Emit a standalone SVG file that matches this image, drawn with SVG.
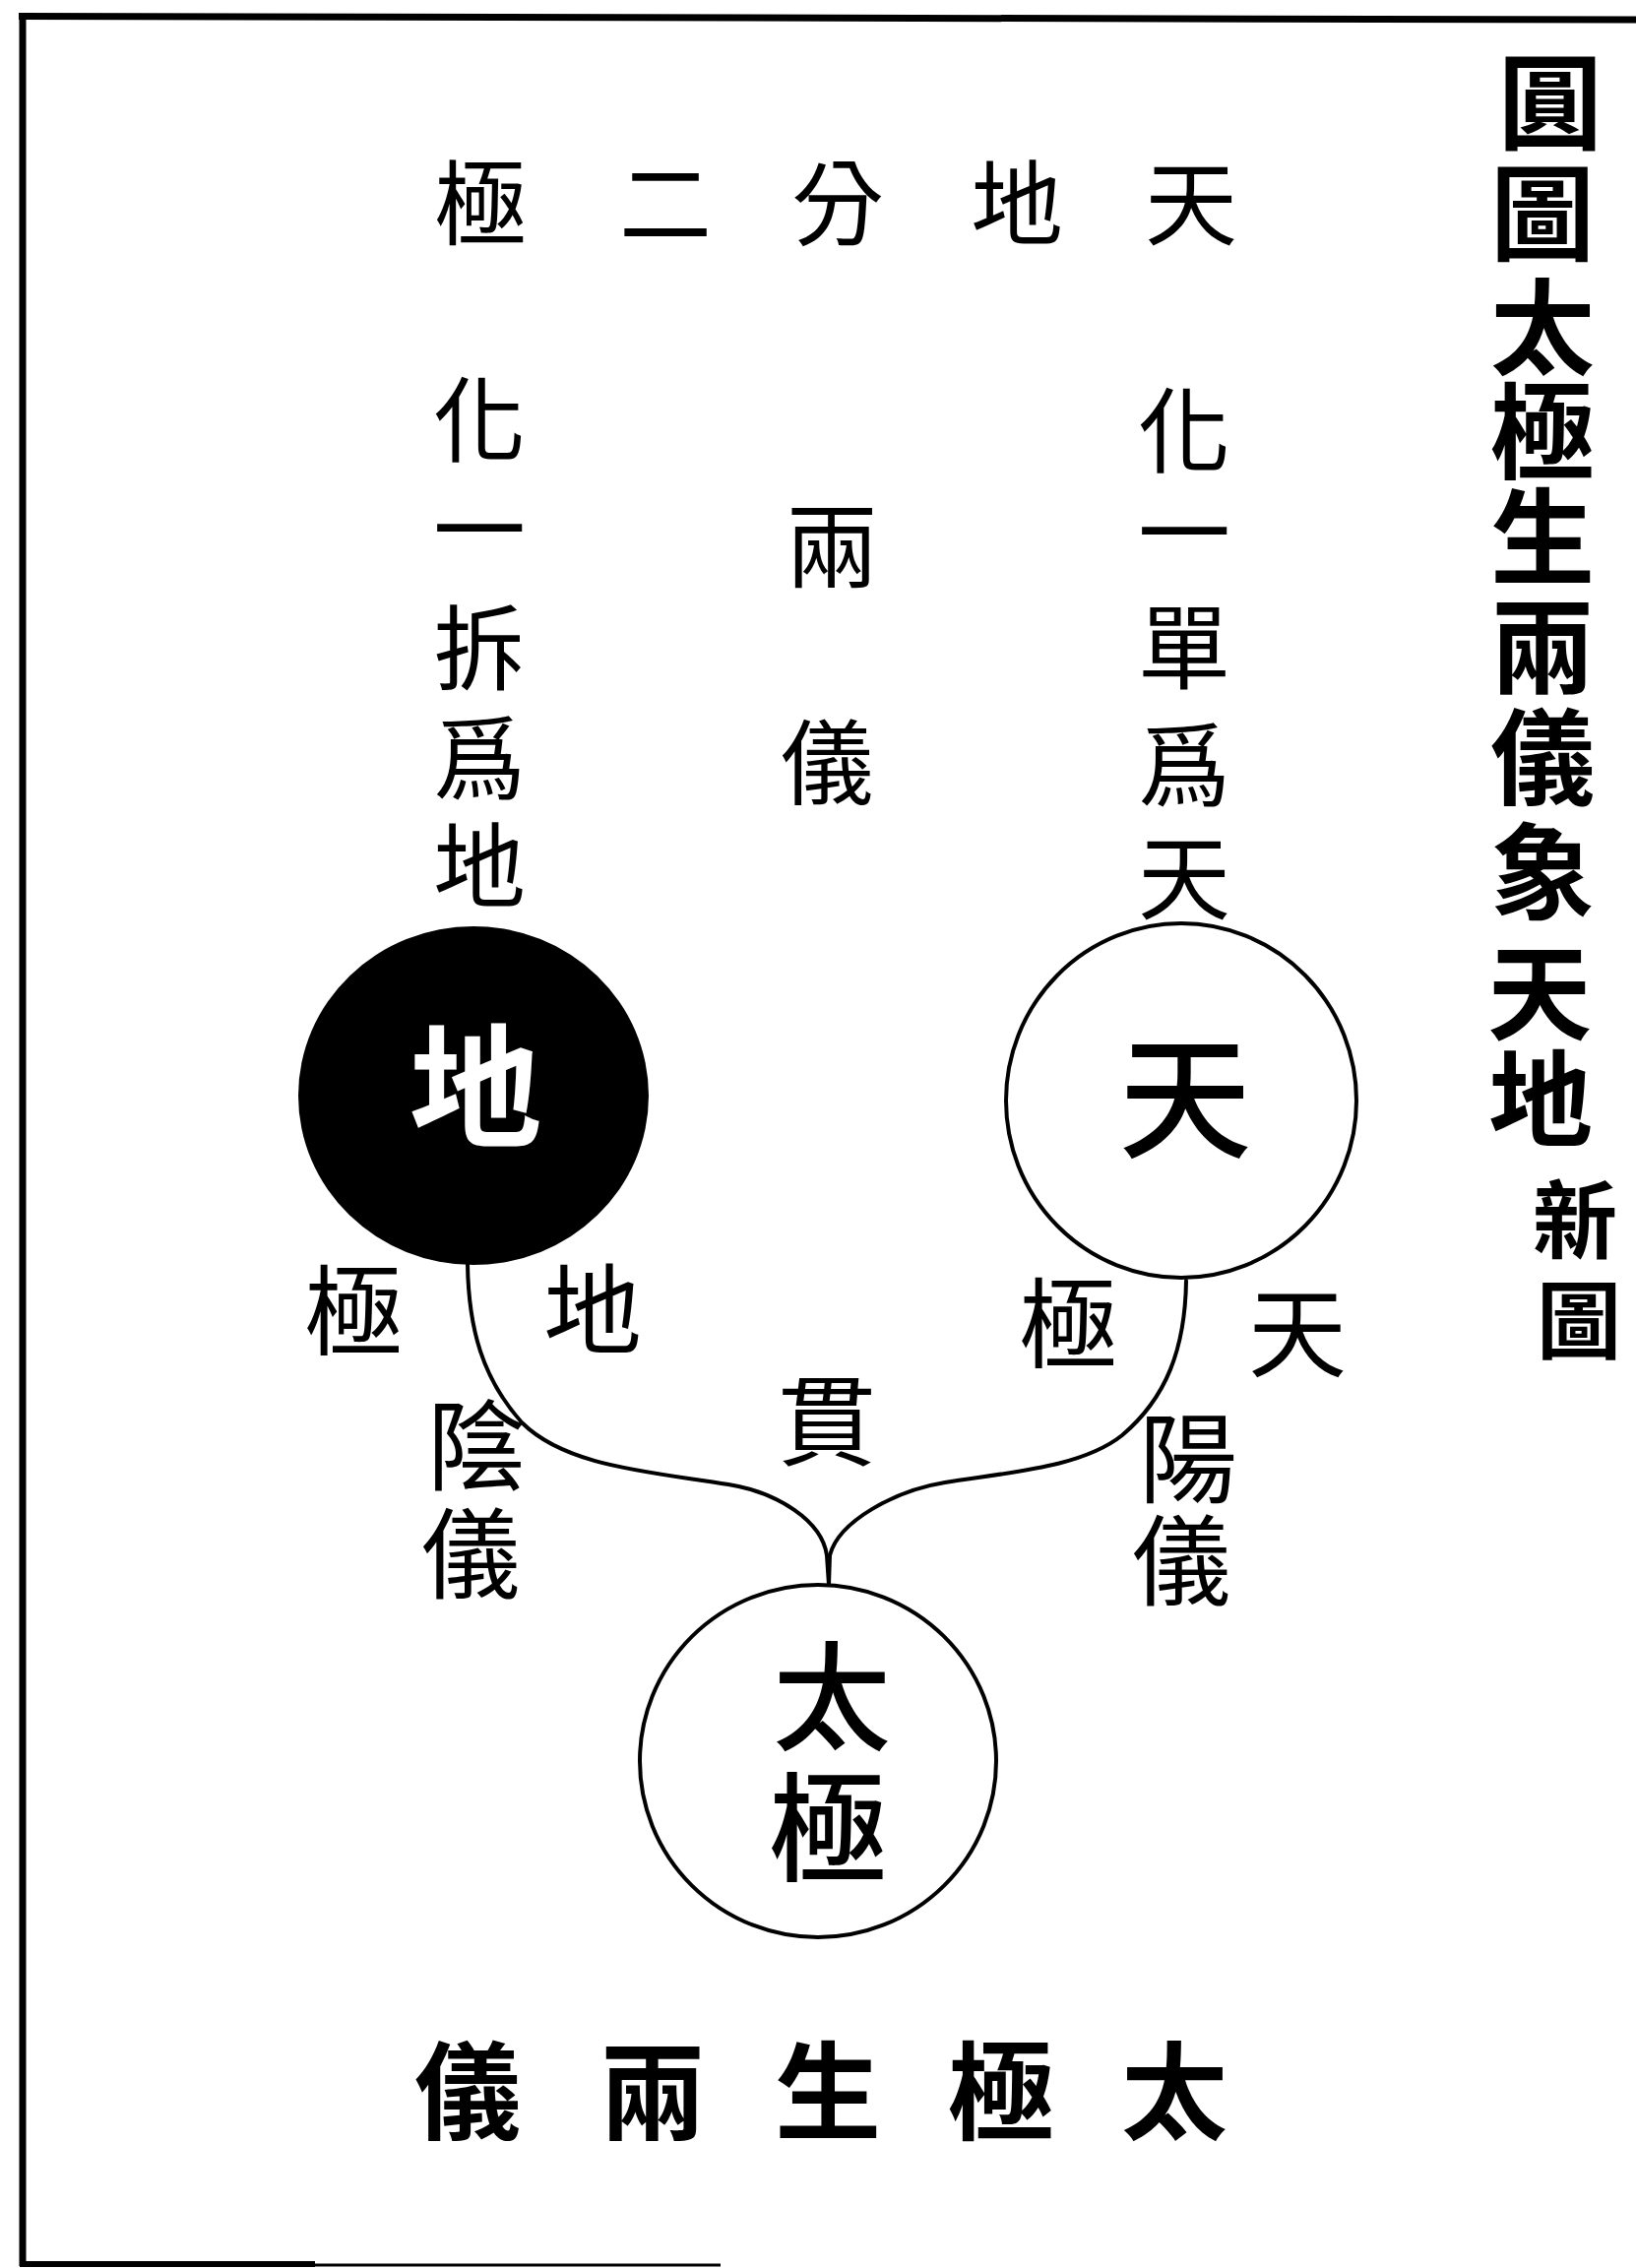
<svg xmlns="http://www.w3.org/2000/svg" width="1662" height="2304" viewBox="0 0 1662 2304">
<style>
text{font-family:"Liberation Serif","Noto Sans CJK TC","Noto Sans CJK JP",sans-serif;text-anchor:middle;dominant-baseline:central;fill:#000}
.t{font-size:94px;font-weight:400}
.l{font-size:100px;font-weight:400}
.title{font-size:106px;font-weight:700}
.sub{font-size:86px;font-weight:700}
.bot{font-size:108px;font-weight:700}
.ring{fill:#fff;stroke:#000;stroke-width:4}
.conn{fill:none;stroke:#000;stroke-width:4;stroke-linecap:round}
.frame{stroke:#000;fill:none}
</style>
<rect width="1662" height="2304" fill="#fff"/>
<g id="frame">
<path class="frame" d="M19,16.5 L1662,20" stroke-width="7"/>
<path class="frame" d="M23,13 L23,2302" stroke-width="7"/>
<path class="frame" d="M20,2300 L320,2300" stroke-width="6"/>
<path class="frame" d="M320,2301 L732,2301" stroke-width="3"/>
</g>
<g id="title">
<text class="title" x="1575" y="107">圓</text>
<text class="title" x="1567" y="220">圖</text>
<text class="title" x="1567" y="336">太</text>
<text class="title" x="1567" y="442">極</text>
<text class="title" x="1567" y="549">生</text>
<text class="title" x="1567" y="660">兩</text>
<text class="title" x="1567" y="773">儀</text>
<text class="title" x="1567" y="889">象</text>
<text class="title" x="1564" y="1012">天</text>
<text class="title" x="1565" y="1120">地</text>
<text class="sub" x="1600" y="1243">新</text>
<text class="sub" x="1604" y="1345">圖</text>
</g>
<g id="top-row">
<text class="t" x="488" y="210">極</text>
<text class="t" x="676" y="210">二</text>
<text class="t" x="851" y="210">分</text>
<text class="t" x="1033" y="210">地</text>
<text class="t" x="1210" y="210">天</text>
</g>
<g id="left-column">
<text class="t" x="487" y="430">化</text>
<text class="t" x="487" y="541">一</text>
<text class="t" x="487" y="662">拆</text>
<text class="t" x="487" y="774">爲</text>
<text class="t" x="487" y="883">地</text>
</g>
<g id="middle-column">
<text class="t" x="845" y="558">兩</text>
<text class="t" x="840" y="778">儀</text>
</g>
<g id="right-column">
<text class="t" x="1203" y="441">化</text>
<text class="t" x="1203" y="544">一</text>
<text class="t" x="1203" y="661">單</text>
<text class="t" x="1203" y="781">爲</text>
<text class="t" x="1203" y="895">天</text>
</g>
<g id="connectors">
<path class="conn" d="M475,1284 C476,1350 490,1400 530,1445 C575,1490 660,1495 740,1508 C790,1516 835,1545 840,1580 L842,1610"/>
<path class="conn" d="M1205,1301 C1204,1370 1185,1420 1140,1458 C1100,1490 1030,1495 960,1506 C910,1514 852,1545 843,1580 L842,1610"/>
</g>
<g id="node-di">
<ellipse cx="481" cy="1113" rx="178" ry="172" fill="#000"/>
<text x="483" y="1109" style="font-size:135px;font-weight:700;fill:#fff">地</text>
</g>
<g id="node-tian">
<ellipse class="ring" cx="1200" cy="1118" rx="178" ry="180"/>
<text x="1204" y="1120" style="font-size:135px;font-weight:500">天</text>
</g>
<g id="node-taiji">
<ellipse class="ring" cx="831" cy="1789" rx="181" ry="179"/>
<text x="845" y="1728" style="font-size:120px;font-weight:500">太</text>
<text x="841" y="1861" style="font-size:120px;font-weight:500">極</text>
</g>
<g id="branch-labels">
<text class="l" x="359" y="1335">極</text>
<text class="l" x="602" y="1334">地</text>
<text class="l" x="1085" y="1348">極</text>
<text class="l" x="1318" y="1357">天</text>
<text class="l" x="840" y="1447">貫</text>
<text class="l" x="484" y="1472">陰</text>
<text class="l" x="478" y="1582">儀</text>
<text class="l" x="1207" y="1485">陽</text>
<text class="l" x="1200" y="1589">儀</text>
</g>
<g id="bottom-row">
<text class="bot" x="475" y="2128">儀</text>
<text class="bot" x="663" y="2128">兩</text>
<text class="bot" x="841" y="2128">生</text>
<text class="bot" x="1017" y="2128">極</text>
<text class="bot" x="1193" y="2128">太</text>
</g>
</svg>
